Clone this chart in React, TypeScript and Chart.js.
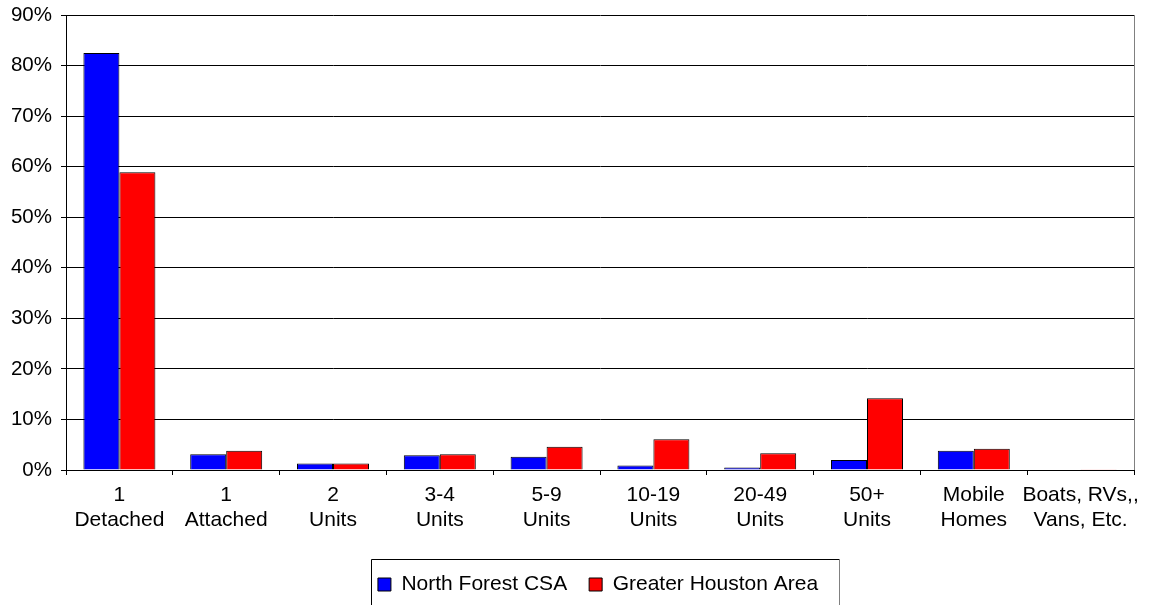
import React, { useEffect, useRef } from "react";
import { Chart, registerables } from "chart.js";

Chart.register(...registerables);

const categories: string[][] = [
  ["1", "Detached"],
  ["1", "Attached"],
  ["2", "Units"],
  ["3-4", "Units"],
  ["5-9", "Units"],
  ["10-19", "Units"],
  ["20-49", "Units"],
  ["50+", "Units"],
  ["Mobile", "Homes"],
  ["Boats, RVs,,", "Vans, Etc."],
];

const northForest: number[] = [82.5, 3.1, 1.3, 2.9, 2.6, 0.9, 0.5, 2.0, 3.8, 0];
const greaterHouston: number[] = [58.9, 3.8, 1.3, 3.1, 4.6, 6.1, 3.3, 14.2, 4.2, 0.15];

const seriesNames = ["North Forest CSA", "Greater Houston Area"];
const yMax = 90;
const yStep = 10;

const FONT = "'Liberation Sans', Arial, sans-serif";
const LEGEND_HEIGHT = 53;
const LEGEND_SHIFT = 31;

const decorPlugin = {
  id: "decor",
  beforeLayout(chart: any) {
    const lg = chart.legend;
    if (lg && !lg.__patched) {
      const orig = lg.fit;
      lg.fit = function () {
        orig.call(this);
        this.height = LEGEND_HEIGHT;
      };
      lg.__patched = true;
    }
  },
  afterLayout(chart: any) {
    const lg = chart.legend;
    if (lg) {
      lg.left += LEGEND_SHIFT;
      lg.right += LEGEND_SHIFT;
    }
  },
  afterDraw(chart: any) {
    const ctx = chart.ctx;
    const ca = chart.chartArea;
    ctx.save();
    ctx.lineWidth = 1;
    ctx.strokeStyle = "#808080";
    ctx.beginPath();
    ctx.moveTo(Math.round(ca.right) + 0.5, ca.top);
    ctx.lineTo(Math.round(ca.right) + 0.5, ca.bottom);
    ctx.stroke();
    const lg = chart.legend;
    if (lg && lg.legendHitBoxes && lg.legendHitBoxes.length) {
      const boxes = lg.legendHitBoxes;
      const first = boxes[0];
      const last = boxes[boxes.length - 1];
      const left = Math.round(first.left - 7) + 0.5;
      const right = Math.round(last.left + last.width + 21) + 0.5;
      const top = Math.round(first.top - 15) + 0.5;
      const bottom = chart.height + 2;
      ctx.strokeStyle = "#000";
      ctx.beginPath();
      ctx.moveTo(left, bottom);
      ctx.lineTo(left, top);
      ctx.lineTo(right, top);
      ctx.stroke();
      ctx.strokeStyle = "#808080";
      ctx.beginPath();
      ctx.moveTo(right, top);
      ctx.lineTo(right, bottom);
      ctx.stroke();
    }
    ctx.restore();
  },
};

export default function App() {
  const ref = useRef<HTMLCanvasElement>(null);
  useEffect(() => {
    document.body.style.margin = "0";
    if (!ref.current) return;
    const chart = new Chart(ref.current, {
      type: "bar",
      data: {
        labels: categories,
        datasets: [
          {
            label: seriesNames[0],
            data: northForest,
            backgroundColor: "#0000FF",
            borderColor: "#000000",
            borderWidth: 1,
            categoryPercentage: 0.674,
            barPercentage: 1.0,
          },
          {
            label: seriesNames[1],
            data: greaterHouston,
            backgroundColor: "#FF0000",
            borderColor: "#000000",
            borderWidth: 1,
            categoryPercentage: 0.674,
            barPercentage: 1.0,
          },
        ],
      },
      options: {
        responsive: false,
        animation: false,
        maintainAspectRatio: false,
        layout: { padding: { top: 0, right: 30, bottom: 0, left: 0 } },
        plugins: {
          tooltip: { enabled: false },
          legend: {
            position: "bottom",
            labels: {
              color: "#000",
              font: { family: FONT, size: 21 },
              boxWidth: 13,
              boxHeight: 13,
              padding: 22,
            },
          },
        },
        scales: {
          x: {
            grid: {
              drawOnChartArea: false,
              drawTicks: true,
              tickLength: 5,
              color: "#000",
              offset: true,
            },
            border: { color: "#000", width: 1 },
            ticks: {
              color: "#000",
              font: { family: FONT, size: 21, lineHeight: 1.19 },
              maxRotation: 0,
              autoSkip: false,
              padding: 8,
            },
            afterFit(scale: any) {
              scale.height = 82;
            },
          },
          y: {
            min: 0,
            max: yMax,
            grid: { color: "#000", tickLength: 5, lineWidth: 1 },
            border: { color: "#000", width: 1 },
            ticks: {
              stepSize: yStep,
              color: "#000",
              font: { family: FONT, size: 20.5 },
              padding: 9,
              callback: (v: any) => v + "%",
            },
            afterFit(scale: any) {
              scale.width = 66;
              scale.paddingTop = 15;
              scale.paddingBottom = 0;
            },
          },
        },
      },
      plugins: [decorPlugin],
    });
    return () => chart.destroy();
  }, []);
  return (
    <div style={{ position: "absolute", left: 0, top: 0, width: 1164, height: 605 }}>
      <canvas ref={ref} width={1164} height={605} style={{ width: 1164, height: 605 }} />
    </div>
  );
}
